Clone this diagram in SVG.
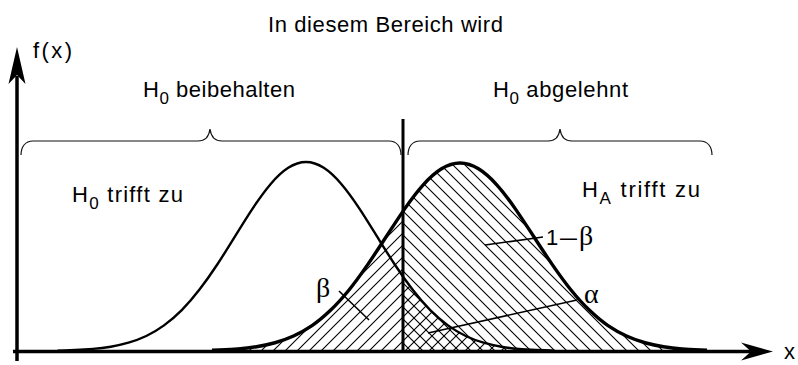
<svg xmlns="http://www.w3.org/2000/svg" width="798" height="365" viewBox="0 0 798 365">
<style>
.t{font-family:"Liberation Sans",Arial,sans-serif;font-size:22px;fill:#000}
.g{font-family:"Liberation Serif","Times New Roman",serif;fill:#000}
.brace{fill:none;stroke:#111;stroke-width:1.2}
.lead{fill:none;stroke:#000;stroke-width:1.6}
.ax{fill:none;stroke:#000;stroke-width:3.5}
</style>
<defs>
<pattern id="hf" patternUnits="userSpaceOnUse" width="12" height="12">
<path d="M-1,1 L1,-1 M0,12 L12,0 M11,13 L13,11" stroke="#000" stroke-width="1.1"/>
</pattern>
<pattern id="hb" patternUnits="userSpaceOnUse" width="12" height="12">
<path d="M-1,11 L1,13 M0,0 L12,12 M11,-1 L13,1" stroke="#000" stroke-width="1.1"/>
</pattern>
<clipPath id="clipR">
<path d="M212,350.3 L219.5,350.0 C225.7,349.7 231.8,349.4 238,348.9 S250.3,347.7 256.5,346.7 S268.8,344.5 275,342.75 S287.3,338.8 293.5,336.0 S305.8,329.8 312,325.6 S324.3,316.2 330.5,310.3 S342.8,297.6 349,290.0 S361.3,273.9 367.5,264.9 S379.8,246.5 386,237.0 S398.3,218.0 404.5,209.1 S416.8,192.0 423,185.1 S435.3,172.6 441.5,168.8 S453.8,163 460,163 S472.3,165.0 478.5,168.8 S490.8,178.2 497,185.1 S509.3,200.2 515.5,209.1 S527.8,227.5 534,237.0 S546.3,255.9 552.5,264.9 S564.8,282.4 571,290.0 S583.3,304.4 589.5,310.3 S601.8,321.4 608,325.6 S620.3,333.2 626.5,336.0 S638.8,341.0 645,342.75 S657.3,345.7 663.5,346.7 S675.8,348.4 682,348.9 S694.3,349.7 700.5,350.0 L707,350.3 L707,351.5 L212,351.5 Z"/>
</clipPath>
<clipPath id="clipL">
<path d="M57.5,350.6 C63.4,350.5 69.3,350.26 75.25,350.0 S87.1,349.4 93,348.9 S104.8,347.7 110.75,346.7 S122.6,344.4 128.5,342.7 S140.3,338.8 146.25,336.0 S158.1,329.7 164,325.4 S175.8,316.1 181.75,310.1 S193.6,297.3 199.5,289.6 S211.3,273.5 217.25,264.5 S229.1,246.0 235,236.4 S246.8,217.2 252.75,208.3 S264.6,191.2 270.5,184.2 S282.3,171.6 288.25,167.8 S300.1,162 306,162 S317.8,164.0 323.75,167.8 S335.6,177.3 341.5,184.2 S353.3,199.4 359.25,208.3 S371.1,226.9 377,236.4 S388.8,255.5 394.75,264.5 S406.6,281.9 412.5,289.6 S424.3,304.1 430.25,310.1 S442.1,321.1 448,325.4 S459.8,333.2 465.75,336.0 S477.6,341.0 483.5,342.7 S495.3,345.7 501.25,346.7 S513.1,348.4 519,348.9 S530.8,349.7 536.75,350.0 S548.6,350.5 554.5,350.6 L554.5,351.5 L57.5,351.5 Z"/>
</clipPath>
</defs>

<g id="hatching">
<rect x="200" y="150" width="203" height="202" fill="url(#hf)" clip-path="url(#clipR)"/>
<rect x="403" y="150" width="310" height="202" fill="url(#hb)" clip-path="url(#clipR)"/>
<rect x="403" y="150" width="160" height="202" fill="url(#hf)" clip-path="url(#clipL)"/>
</g>

<g id="curve-H0">
<path fill="none" stroke="#000" stroke-width="2.4" d="M57.5,350.6 C63.4,350.5 69.3,350.26 75.25,350.0 S87.1,349.4 93,348.9 S104.8,347.7 110.75,346.7 S122.6,344.4 128.5,342.7 S140.3,338.8 146.25,336.0 S158.1,329.7 164,325.4 S175.8,316.1 181.75,310.1 S193.6,297.3 199.5,289.6 S211.3,273.5 217.25,264.5 S229.1,246.0 235,236.4 S246.8,217.2 252.75,208.3 S264.6,191.2 270.5,184.2 S282.3,171.6 288.25,167.8 S300.1,162 306,162 S317.8,164.0 323.75,167.8 S335.6,177.3 341.5,184.2 S353.3,199.4 359.25,208.3 S371.1,226.9 377,236.4 S388.8,255.5 394.75,264.5 S406.6,281.9 412.5,289.6 S424.3,304.1 430.25,310.1 S442.1,321.1 448,325.4 S459.8,333.2 465.75,336.0 S477.6,341.0 483.5,342.7 S495.3,345.7 501.25,346.7 S513.1,348.4 519,348.9 S530.8,349.7 536.75,350.0 S548.6,350.5 554.5,350.6"/>
</g>

<g id="curve-HA">
<path fill="none" stroke="#000" stroke-width="3.4" d="M212,350.3 L219.5,350.0 C225.7,349.7 231.8,349.4 238,348.9 S250.3,347.7 256.5,346.7 S268.8,344.5 275,342.75 S287.3,338.8 293.5,336.0 S305.8,329.8 312,325.6 S324.3,316.2 330.5,310.3 S342.8,297.6 349,290.0 S361.3,273.9 367.5,264.9 S379.8,246.5 386,237.0 S398.3,218.0 404.5,209.1 S416.8,192.0 423,185.1 S435.3,172.6 441.5,168.8 S453.8,163 460,163 S472.3,165.0 478.5,168.8 S490.8,178.2 497,185.1 S509.3,200.2 515.5,209.1 S527.8,227.5 534,237.0 S546.3,255.9 552.5,264.9 S564.8,282.4 571,290.0 S583.3,304.4 589.5,310.3 S601.8,321.4 608,325.6 S620.3,333.2 626.5,336.0 S638.8,341.0 645,342.75 S657.3,345.7 663.5,346.7 S675.8,348.4 682,348.9 S694.3,349.7 700.5,350.0 L707,350.3"/>
</g>

<g id="critical-line">
<path d="M403,119 L403,351" stroke="#000" stroke-width="3" fill="none"/>
</g>

<g id="axes">
<path class="ax" d="M17,361 L17,76"/>
<path d="M17,47 L25.5,84 L17,75 L8.5,84 Z" fill="#000"/>
<path class="ax" d="M13,351.5 L752,351.5"/>
<path d="M773,351.5 L741,342.5 L751,351.5 L741,360.5 Z" fill="#000"/>
<text class="t" x="33" y="58" textLength="39" lengthAdjust="spacing">f(x)</text>
<text class="t" x="784" y="359" font-size="20">x</text>
</g>

<g id="connectors">
<path class="lead" d="M339,291 L369,320"/>
<path class="lead" d="M485,245 L543,237"/>
<path class="lead" d="M428,333 L577,300"/>
</g>

<g id="title">
<text class="t" x="268" y="32" font-size="21" textLength="235" lengthAdjust="spacing">In diesem Bereich wird</text>
</g>

<g id="brace-left">
<path class="brace" d="M21,155 C21,147 25,141 33,141 L198,141 C205,141 209,137 210,129 C211,137 215,141 222,141 L389,141 C397,141 401,147 401,155"/>
<text class="t" x="143" y="97" textLength="152" lengthAdjust="spacing">H<tspan font-size="17" dy="7">0</tspan><tspan dy="-7"> beibehalten</tspan></text>
</g>

<g id="brace-right">
<path class="brace" d="M408,155 C408,147 412,141 420,141 L548,141 C555,141 559,137 560,129 C561,137 565,141 572,141 L700,141 C708,141 712,147 712,155"/>
<text class="t" x="493" y="97" textLength="135" lengthAdjust="spacing">H<tspan font-size="17" dy="7">0</tspan><tspan dy="-7"> abgelehnt</tspan></text>
</g>

<g id="label-H0">
<text class="t" x="72" y="202" textLength="111" lengthAdjust="spacing">H<tspan font-size="17" dy="7">0</tspan><tspan dy="-7"> trifft zu</tspan></text>
</g>

<g id="label-HA">
<text class="t" x="582" y="197" textLength="118" lengthAdjust="spacing">H<tspan font-size="17" dy="7">A</tspan><tspan dy="-7"> trifft zu</tspan></text>
</g>

<g id="label-beta">
<text class="g" x="316" y="297" font-size="28">β</text>
</g>

<g id="label-power">
<text class="t" x="546" y="245" font-size="26">1</text>
<text class="t" x="560" y="245" font-size="25" textLength="17" lengthAdjust="spacingAndGlyphs">–</text>
<text class="g" x="579" y="245" font-size="28">β</text>
</g>

<g id="label-alpha">
<text class="g" x="584" y="303" font-size="28">α</text>
</g>
</svg>
